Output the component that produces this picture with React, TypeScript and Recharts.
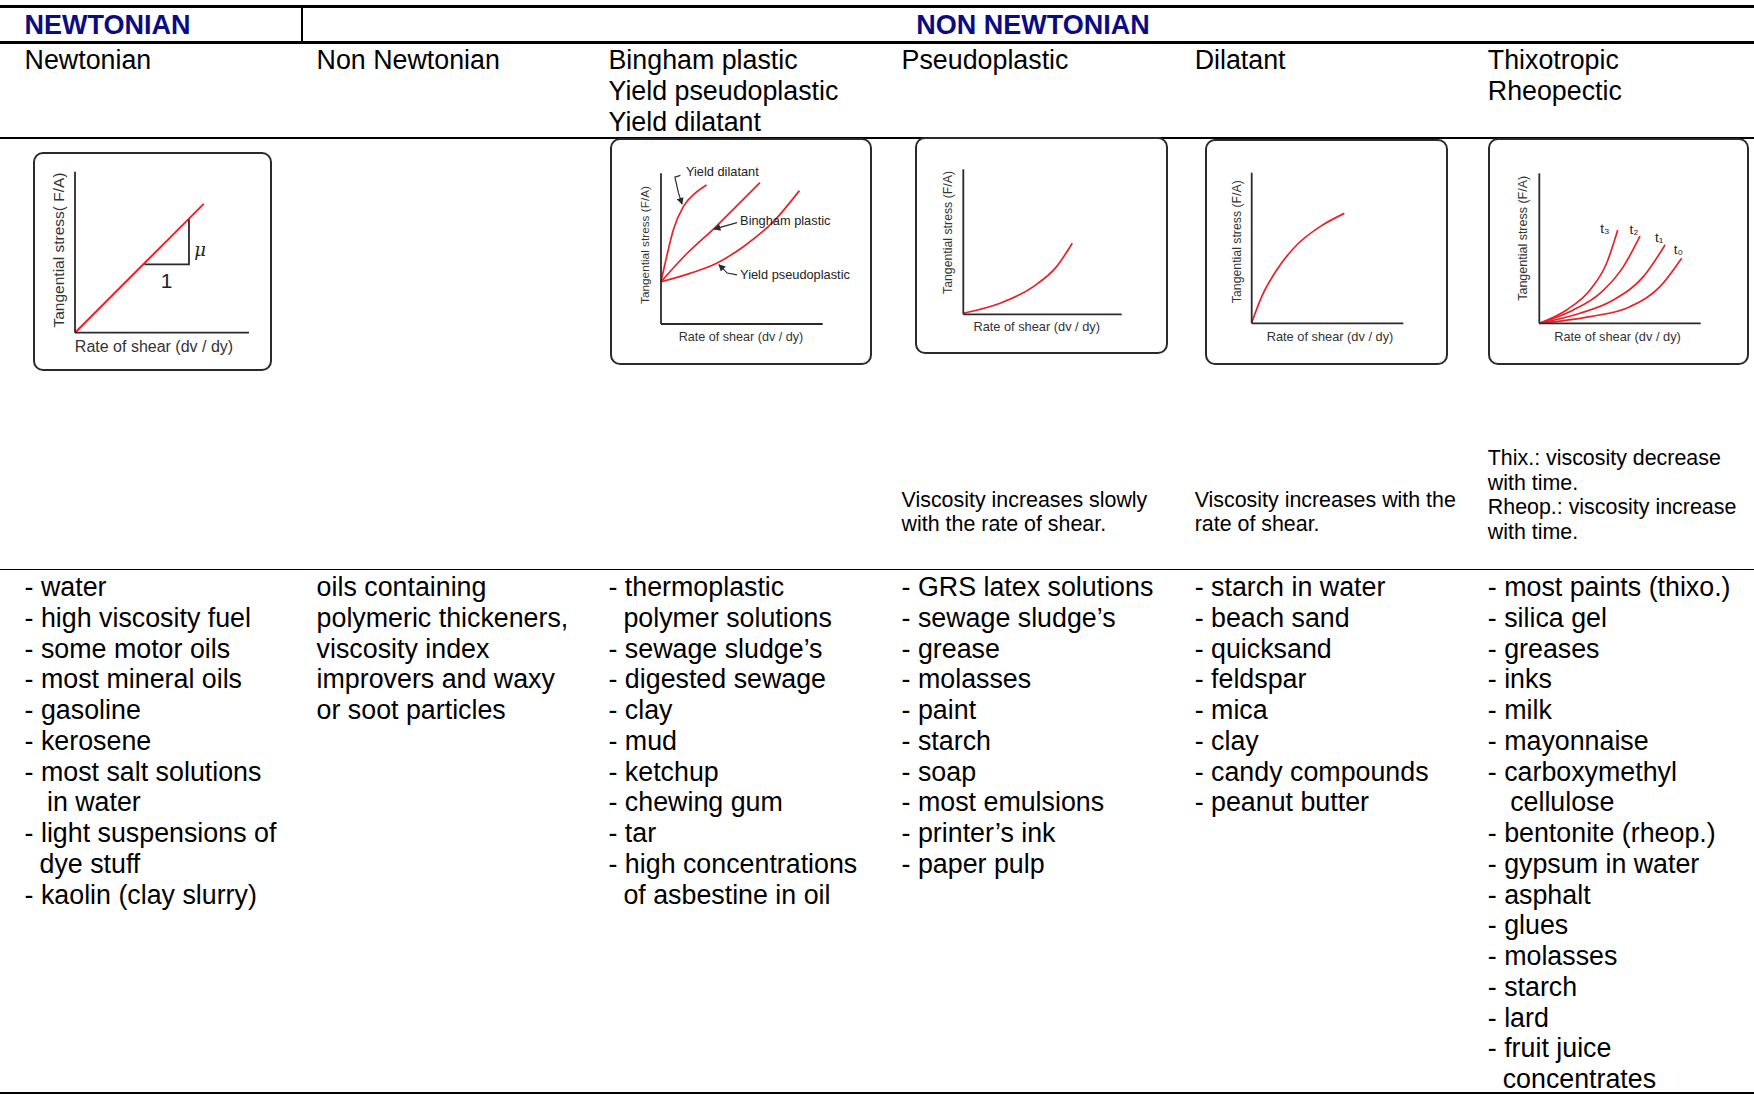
import React from "react";
import { LineChart, Line, XAxis, YAxis, ReferenceDot } from "recharts";

const FONT = "'Liberation Sans', Arial, Helvetica, sans-serif";
const RED = "#ea2128";
const INK = "#2a2a2a";
const NAVY = "#0b0b86";

// ---- table text ----
const groupTitles = ["NEWTONIAN", "NON NEWTONIAN"];

const fluidTypes = [
  ["Newtonian"],
  ["Non Newtonian"],
  ["Bingham plastic", "Yield pseudoplastic", "Yield dilatant"],
  ["Pseudoplastic"],
  ["Dilatant"],
  ["Thixotropic", "Rheopectic"],
];

const descriptions = [
  [],
  [],
  [],
  ["Viscosity increases slowly", "with the rate of shear."],
  ["Viscosity increases with the", "rate of shear."],
  ["Thix.: viscosity decrease", "with time.", "Rheop.: viscosity increase", "with time."],
];

const examples = [
  [
    "- water",
    "- high viscosity fuel",
    "- some motor oils",
    "- most mineral oils",
    "- gasoline",
    "- kerosene",
    "- most salt solutions",
    "   in water",
    "- light suspensions of",
    "  dye stuff",
    "- kaolin (clay slurry)",
  ],
  [
    "oils containing",
    "polymeric thickeners,",
    "viscosity index",
    "improvers and waxy",
    "or soot particles",
  ],
  [
    "- thermoplastic",
    "  polymer solutions",
    "- sewage sludge\u2019s",
    "- digested sewage",
    "- clay",
    "- mud",
    "- ketchup",
    "- chewing gum",
    "- tar",
    "- high concentrations",
    "  of asbestine in oil",
  ],
  [
    "- GRS latex solutions",
    "- sewage sludge\u2019s",
    "- grease",
    "- molasses",
    "- paint",
    "- starch",
    "- soap",
    "- most emulsions",
    "- printer\u2019s ink",
    "- paper pulp",
  ],
  [
    "- starch in water",
    "- beach sand",
    "- quicksand",
    "- feldspar",
    "- mica",
    "- clay",
    "- candy compounds",
    "- peanut butter",
  ],
  [
    "- most paints (thixo.)",
    "- silica gel",
    "- greases",
    "- inks",
    "- milk",
    "- mayonnaise",
    "- carboxymethyl",
    "   cellulose",
    "- bentonite (rheop.)",
    "- gypsum in water",
    "- asphalt",
    "- glues",
    "- molasses",
    "- starch",
    "- lard",
    "- fruit juice",
    "  concentrates",
  ],
];

// ---- curve data (0-100 on both axes) ----
const newtonianLine = [
  { x: 0, y: 0 },
  { x: 37, y: 40 },
  { x: 74, y: 80 },
];
const newtonianSlope = [
  { x: 40, y: 42.5 },
  { x: 65.5, y: 42.5 },
  { x: 65.5, y: 70.5 },
];

const yieldDilatant = [
  { x: 0, y: 28 },
  { x: 3.5, y: 44.7 },
  { x: 7.6, y: 62.4 },
  { x: 13.8, y: 77.9 },
  { x: 21, y: 86.7 },
  { x: 28.2, y: 92.3 },
];
const binghamPlastic = [
  { x: 0, y: 28 },
  { x: 15.9, y: 46.6 },
  { x: 33.4, y: 64 },
  { x: 48.9, y: 80.6 },
  { x: 61.2, y: 93.8 },
];
const yieldPseudoplastic = [
  { x: 0, y: 28 },
  { x: 17.9, y: 33.6 },
  { x: 34.4, y: 40.3 },
  { x: 50.9, y: 51.3 },
  { x: 69.5, y: 67.9 },
  { x: 85.6, y: 88.5 },
];
const dilatantArrow = [
  { x: 12, y: 98.6 },
  { x: 8.6, y: 97.4 },
  { x: 10.8, y: 87 },
  { x: 13, y: 79.5 },
];
const binghamArrow = [
  { x: 47, y: 67.3 },
  { x: 32.8, y: 63 },
];
const pseudoArrow = [
  { x: 47, y: 32.6 },
  { x: 41, y: 33.8 },
  { x: 35.8, y: 39.4 },
];

const pseudoplasticCurve = [
  { x: 0, y: 0.7 },
  { x: 23.2, y: 7.6 },
  { x: 44.2, y: 19.1 },
  { x: 58.9, y: 32.9 },
  { x: 68.8, y: 49 },
];

const dilatantCurve = [
  { x: 0, y: 0.4 },
  { x: 6.6, y: 17.7 },
  { x: 16.5, y: 35.4 },
  { x: 29.7, y: 52 },
  { x: 45.1, y: 64.2 },
  { x: 61.1, y: 73 },
];

const thixoT3 = [
  { x: 0, y: 0 },
  { x: 16.9, y: 8.9 },
  { x: 31.4, y: 22.2 },
  { x: 41.7, y: 40 },
  { x: 48.6, y: 62.2 },
];
const thixoT2 = [
  { x: 0, y: 0 },
  { x: 21.1, y: 8.9 },
  { x: 37.6, y: 20 },
  { x: 52.1, y: 37.8 },
  { x: 62.4, y: 58.2 },
];
const thixoT1 = [
  { x: 0, y: 0 },
  { x: 25.2, y: 6.7 },
  { x: 45.9, y: 15.6 },
  { x: 64.5, y: 31.1 },
  { x: 77.9, y: 52.2 },
];
const thixoT0 = [
  { x: 0, y: 0 },
  { x: 31.4, y: 4.4 },
  { x: 56.2, y: 11.1 },
  { x: 74.8, y: 24.4 },
  { x: 88.2, y: 43.3 },
];
const thixoLabels = [
  { name: "t\u2083", x: 40.7, y: 63.3 },
  { name: "t\u2082", x: 58.7, y: 62.7 },
  { name: "t\u2081", x: 74.2, y: 57.3 },
  { name: "t\u2080", x: 86.2, y: 49.3 },
];

const BORDER = 2;

type Rect = { left: number; top: number; width: number; height: number };
type Plot = { left: number; right: number; top: number; bottom: number };
type Title = { text: string; x: number; y: number; size: number };

function ShearChart({
  box,
  plot,
  yTitle,
  xTitle,
  children,
}: {
  box: Rect;
  plot: Plot;
  yTitle: Title;
  xTitle: Title;
  children: React.ReactNode;
}) {
  const innerL = box.left + BORDER;
  const innerT = box.top + BORDER;
  const innerW = box.width - 2 * BORDER;
  const innerH = box.height - 2 * BORDER;
  const margin = {
    top: plot.top - innerT,
    right: innerL + innerW - plot.right,
    left: 0,
    bottom: 0,
  };
  const axisStyle = { stroke: INK, strokeWidth: 1.8 };

  const yLabel = () => {
    const cx = yTitle.x - innerL;
    const cy = yTitle.y - innerT;
    return (
      <text
        x={cx}
        y={cy}
        transform={`rotate(-90 ${cx} ${cy})`}
        textAnchor="middle"
        dominantBaseline="central"
        fontSize={yTitle.size}
        fill="#333"
        fontFamily={FONT}
      >
        {yTitle.text}
      </text>
    );
  };
  const xLabel = () => (
    <text
      x={xTitle.x - innerL}
      y={xTitle.y - innerT}
      textAnchor="middle"
      dominantBaseline="central"
      fontSize={xTitle.size}
      fill="#333"
      fontFamily={FONT}
    >
      {xTitle.text}
    </text>
  );

  return (
    <div
      style={{
        position: "absolute",
        left: box.left,
        top: box.top,
        width: box.width,
        height: box.height,
        border: `${BORDER}px solid ${INK}`,
        borderRadius: 10,
        boxSizing: "border-box",
        background: "#fff",
        zIndex: 2,
      }}
    >
      <LineChart width={innerW} height={innerH} margin={margin}>
        <XAxis
          type="number"
          dataKey="x"
          domain={[0, 100]}
          tick={false}
          tickLine={false}
          axisLine={axisStyle}
          height={innerT + innerH - plot.bottom}
          label={{ content: xLabel }}
        />
        <YAxis
          type="number"
          dataKey="y"
          domain={[0, 100]}
          tick={false}
          tickLine={false}
          axisLine={axisStyle}
          width={plot.left - innerL}
          label={{ content: yLabel }}
        />
        {children}
      </LineChart>
    </div>
  );
}

const curve = (data: { x: number; y: number }[], key: string, width = 1.7) => (
  <Line
    key={key}
    data={data}
    dataKey="y"
    type="monotone"
    stroke={RED}
    strokeWidth={width}
    dot={false}
    isAnimationActive={false}
  />
);

const arrow = (data: { x: number; y: number }[], key: string) => (
  <Line
    key={key}
    data={data}
    dataKey="y"
    type="linear"
    stroke={INK}
    strokeWidth={1.2}
    dot={false}
    markerEnd="url(#arrowHead)"
    isAnimationActive={false}
  />
);

const note = (
  key: string,
  x: number,
  y: number,
  value: string,
  size: number,
  position: "right" | "center" = "right",
  extra: Record<string, any> = {}
) => (
  <ReferenceDot
    key={key}
    x={x}
    y={y}
    r={1}
    fill="none"
    stroke="none"
    ifOverflow="visible"
    label={{
      value,
      position,
      offset: 0,
      fontSize: size,
      fill: "#222",
      fontFamily: FONT,
      ...extra,
    }}
  />
);

const COL_X = [24.6, 316.6, 608.5, 901.6, 1194.7, 1487.8];
const LINE_H = 30.76;
const BODY = 26.8;

function Rule({ top, h }: { top: number; h: number }) {
  return (
    <div
      style={{
        position: "absolute",
        left: 0,
        top,
        width: 1754,
        height: h,
        background: "#000",
        zIndex: 1,
      }}
    />
  );
}

function TextBlock({
  lines,
  left,
  top,
  size,
  lh,
}: {
  lines: string[];
  left: number;
  top: number;
  size: number;
  lh: number;
}) {
  return (
    <div
      style={{
        position: "absolute",
        left,
        top,
        fontSize: size,
        lineHeight: `${lh}px`,
        whiteSpace: "pre",
        zIndex: 3,
      }}
    >
      {lines.map((l, i) => (
        <div key={i}>{l}</div>
      ))}
    </div>
  );
}

export default function App() {
  return (
    <div
      style={{
        position: "fixed",
        left: 0,
        top: 0,
        width: 1754,
        height: 1095,
        background: "#fff",
        fontFamily: FONT,
        color: "#000",
        overflow: "hidden",
      }}
    >
      <svg width={0} height={0} style={{ position: "absolute" }}>
        <defs>
          <marker
            id="arrowHead"
            viewBox="0 0 10 10"
            refX="9"
            refY="5"
            markerWidth="8"
            markerHeight="7"
            markerUnits="userSpaceOnUse"
            orient="auto"
          >
            <path d="M0,0 L10,5 L0,10 z" fill={INK} />
          </marker>
        </defs>
      </svg>

      <Rule top={4.5} h={3.4} />
      <Rule top={41} h={3.4} />
      <Rule top={137} h={1.7} />
      <Rule top={568.5} h={1.7} />
      <Rule top={1092} h={2} />
      <div
        style={{
          position: "absolute",
          left: 301,
          top: 6,
          width: 1.8,
          height: 37,
          background: "#000",
        }}
      />

      <div
        style={{
          position: "absolute",
          left: COL_X[0],
          top: 10,
          fontSize: 27,
          lineHeight: `${LINE_H}px`,
          fontWeight: 700,
          color: NAVY,
        }}
      >
        {groupTitles[0]}
      </div>
      <div
        style={{
          position: "absolute",
          left: 1033,
          top: 10,
          transform: "translateX(-50%)",
          fontSize: 27,
          lineHeight: `${LINE_H}px`,
          fontWeight: 700,
          color: NAVY,
          whiteSpace: "nowrap",
        }}
      >
        {groupTitles[1]}
      </div>

      {fluidTypes.map((lines, i) => (
        <TextBlock key={`t${i}`} lines={lines} left={COL_X[i]} top={45} size={BODY} lh={LINE_H} />
      ))}

      {descriptions.map((lines, i) =>
        lines.length ? (
          <TextBlock
            key={`d${i}`}
            lines={lines}
            left={COL_X[i]}
            top={i === 5 ? 446.3 : 487.7}
            size={21.4}
            lh={24.6}
          />
        ) : null
      )}

      {examples.map((lines, i) => (
        <TextBlock key={`e${i}`} lines={lines} left={COL_X[i]} top={572} size={BODY} lh={LINE_H} />
      ))}

      {/* Newtonian */}
      <ShearChart
        box={{ left: 33, top: 152, width: 239, height: 219 }}
        plot={{ left: 75, right: 249, top: 171.7, bottom: 332.7 }}
        yTitle={{ text: "Tangential stress( F/A)", x: 58, y: 250, size: 15.5 }}
        xTitle={{ text: "Rate of shear (dv / dy)", x: 154, y: 346.7, size: 16 }}
      >
        {curve(newtonianLine, "nl", 2)}
        <Line
          data={newtonianSlope}
          dataKey="y"
          type="linear"
          stroke={INK}
          strokeWidth={1.8}
          dot={false}
          isAnimationActive={false}
        />
        {note("one", 52.7, 32.7, "1", 21, "center")}
        {note("mu", 68, 51.4, "\u03bc", 18, "right", {
          fontStyle: "italic",
          fontFamily: "'DejaVu Serif', serif",
        })}
      </ShearChart>

      {/* Bingham / yield */}
      <ShearChart
        box={{ left: 610, top: 138, width: 262, height: 227 }}
        plot={{ left: 661, right: 822.7, top: 173.3, bottom: 324 }}
        yTitle={{ text: "Tangential stress (F/A)", x: 645, y: 245, size: 11.8 }}
        xTitle={{ text: "Rate of shear (dv / dy)", x: 741, y: 336.7, size: 12.6 }}
      >
        {curve(yieldDilatant, "yd")}
        {curve(binghamPlastic, "bp")}
        {curve(yieldPseudoplastic, "yp")}
        {arrow(dilatantArrow, "a1")}
        {arrow(binghamArrow, "a2")}
        {arrow(pseudoArrow, "a3")}
        {note("lyd", 14.8, 101.1, "Yield dilatant", 12.8)}
        {note("lbp", 48.3, 69, "Bingham plastic", 12.8)}
        {note("lyp", 48.3, 33.2, "Yield pseudoplastic", 12.8)}
      </ShearChart>

      {/* Pseudoplastic */}
      <ShearChart
        box={{ left: 915, top: 137, width: 253, height: 217 }}
        plot={{ left: 963.3, right: 1121.7, top: 169.3, bottom: 314.3 }}
        yTitle={{ text: "Tangential stress (F/A)", x: 948.3, y: 232.5, size: 12.3 }}
        xTitle={{ text: "Rate of shear (dv / dy)", x: 1036.7, y: 326, size: 12.8 }}
      >
        {curve(pseudoplasticCurve, "pc")}
      </ShearChart>

      {/* Dilatant */}
      <ShearChart
        box={{ left: 1205, top: 139, width: 243, height: 226 }}
        plot={{ left: 1251.7, right: 1403.3, top: 172.7, bottom: 323.3 }}
        yTitle={{ text: "Tangential stress (F/A)", x: 1236.7, y: 241.7, size: 12.3 }}
        xTitle={{ text: "Rate of shear (dv / dy)", x: 1330, y: 336.7, size: 12.8 }}
      >
        {curve(dilatantCurve, "dc")}
      </ShearChart>

      {/* Thixotropic / Rheopectic */}
      <ShearChart
        box={{ left: 1488, top: 138, width: 261, height: 227 }}
        plot={{ left: 1539.3, right: 1700.7, top: 173.3, bottom: 323.3 }}
        yTitle={{ text: "Tangential stress (F/A)", x: 1523.3, y: 238.3, size: 12.5 }}
        xTitle={{ text: "Rate of shear (dv / dy)", x: 1617.5, y: 336.7, size: 12.8 }}
      >
        {curve(thixoT3, "t3")}
        {curve(thixoT2, "t2")}
        {curve(thixoT1, "t1")}
        {curve(thixoT0, "t0")}
        {thixoLabels.map((t) => note(`l${t.name}`, t.x, t.y, t.name, 13.5, "center"))}
      </ShearChart>
    </div>
  );
}
